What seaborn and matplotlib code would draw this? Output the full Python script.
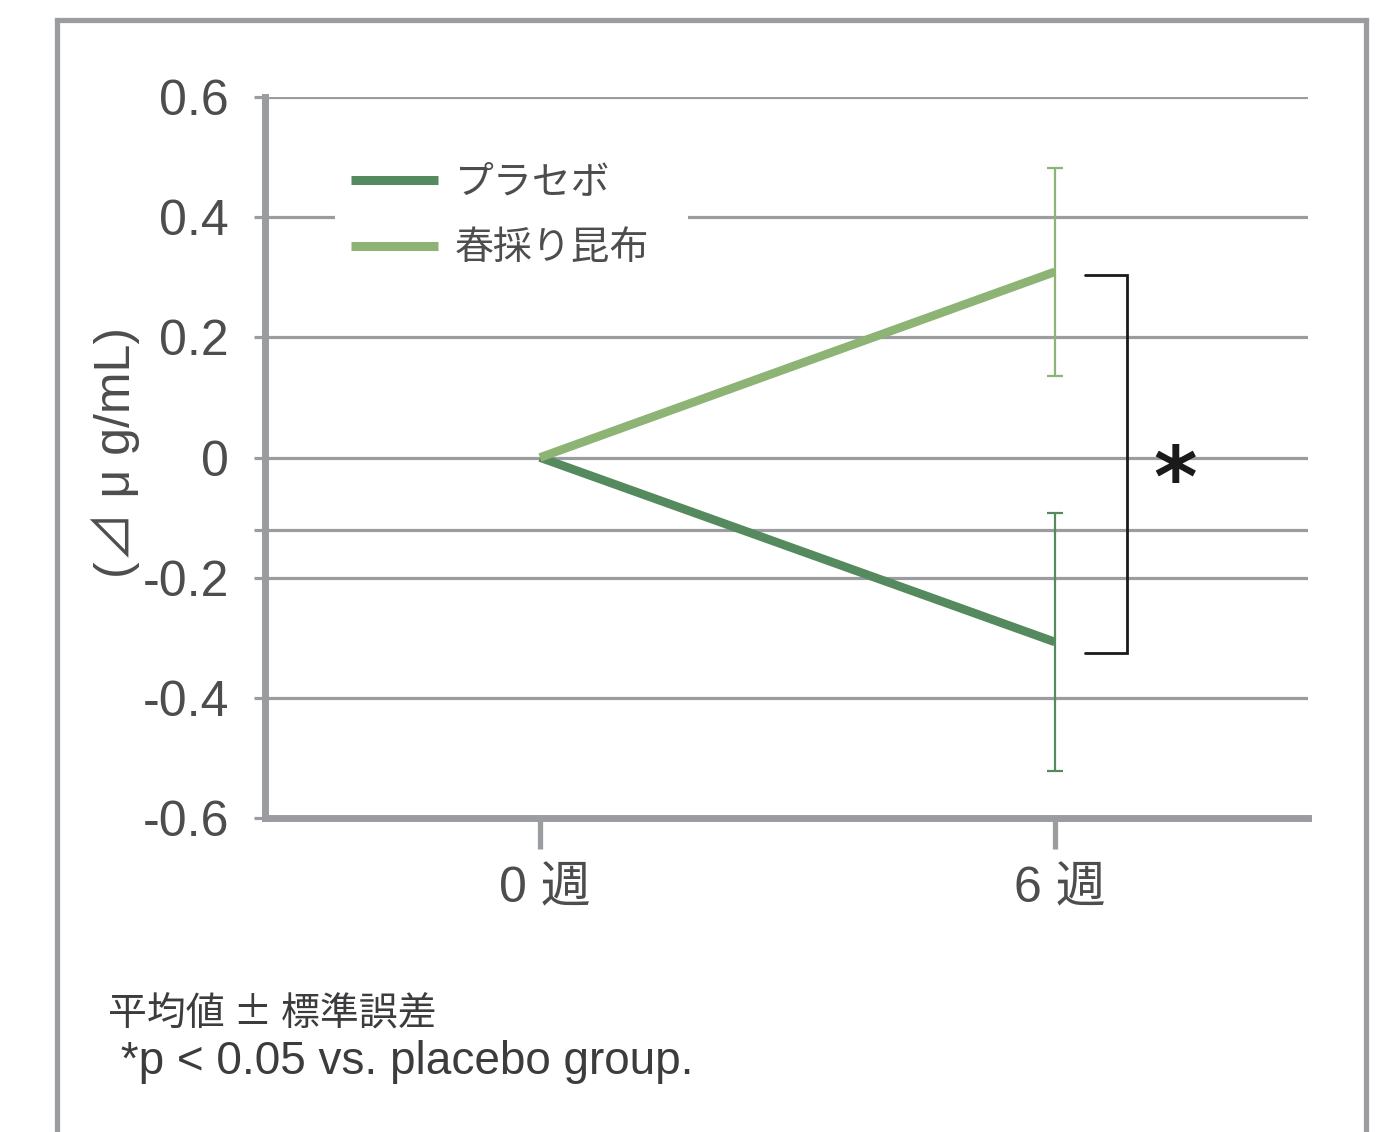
import numpy as np
import pandas as pd
import matplotlib
matplotlib.use("Agg")
import matplotlib.pyplot as plt
import matplotlib.transforms as mtransforms
from matplotlib.patches import Rectangle
import seaborn as sns

# ---- data ----
groups = ["プラセボ", "春採り昆布"]
weeks = [0, 6]
week_labels = ["0 週", "6 週"]
placebo_mean = [0.0, -0.307]
kombu_mean = [0.0, 0.309]
placebo_se = [0.0, 0.215]
kombu_se = [0.0, 0.173]
ytick_values = [0.6, 0.4, 0.2, 0.0, -0.12, -0.2, -0.4, -0.6]
ytick_labels = ["0.6", "0.4", "0.2", "0", "", "-0.2", "-0.4", "-0.6"]
ylabel_text = "(⊿ μ g/mL)"
note_lines = ["平均値 ± 標準誤差", " *p < 0.05 vs. placebo group."]

# ---- style ----
sns.set_theme(style="white")
plt.rcParams["font.family"] = ["Liberation Sans", "Noto Sans CJK JP", "DejaVu Sans"]

c_placebo = "#548a5d"
c_kombu = "#8db474"
c_grid = "#9b9ca0"
c_text = "#4d4d4f"

W, H = 1387, 1132

df = pd.DataFrame({
    "week": weeks * 2,
    "value": placebo_mean + kombu_mean,
    "group": [groups[0]] * 2 + [groups[1]] * 2,
})

fig = plt.figure(figsize=(W / 100, H / 100), dpi=100)
ax = fig.add_axes([265 / W, 1 - 818 / H, (1308 - 265) / W, (818 - 97) / H])

# outer frame (open below the figure edge)
fig.add_artist(Rectangle((57 / W, -0.05), (1366 - 57) / W, 1.05 - 20 / H,
                         transform=fig.transFigure, fill=False, edgecolor=c_grid,
                         linewidth=3.8, clip_on=False, zorder=0))

sns.lineplot(data=df, x="week", y="value", hue="group", hue_order=groups,
             palette=[c_placebo, c_kombu], linewidth=6.2, ax=ax, zorder=4,
             solid_capstyle="butt")

# error bars at week 6
ax.errorbar([weeks[1]], [placebo_mean[1]], yerr=[placebo_se[1]], fmt="none",
            ecolor=c_placebo, elinewidth=1.6, capsize=5.8, capthick=1.6, zorder=5)
ax.errorbar([weeks[1]], [kombu_mean[1]], yerr=[kombu_se[1]], fmt="none",
            ecolor=c_kombu, elinewidth=1.6, capsize=5.8, capthick=1.6, zorder=5)

# significance bracket and asterisk
bx0, bx1 = 6.35, 6.84
ax.plot([bx0, bx1, bx1, bx0], [0.304, 0.304, -0.325, -0.325], color="#1a1a1a",
        linewidth=2.0, solid_joinstyle="miter", zorder=5, clip_on=False)
ax.text(7.40, -0.042, "*", fontsize=60, fontweight="bold", color="#1a1a1a",
        ha="center", va="center", family=["DejaVu Sans"], zorder=5)

# axes, ticks, grid
ax.set_xlim(-3.204, 8.95)
ax.set_ylim(-0.6, 0.6)
ax.set_xticks(weeks)
ax.set_xticklabels(week_labels)
ax.set_yticks(ytick_values)
ax.set_yticklabels(ytick_labels)
ax.set_xlabel("")
ax.set_ylabel("")
ax.grid(axis="y", color=c_grid, linewidth=2.3, zorder=1)
ax.set_axisbelow(True)
for side in ["top", "right"]:
    ax.spines[side].set_visible(False)
for side in ["left", "bottom"]:
    ax.spines[side].set_color(c_grid)
    ax.spines[side].set_linewidth(5)
ax.tick_params(axis="y", length=8, width=2.3, color=c_grid, pad=18,
               labelsize=36, labelcolor=c_text, left=True)
ax.tick_params(axis="x", length=22, width=3.8, color=c_grid, pad=13,
               labelsize=36, labelcolor=c_text, bottom=True)
# nudge week labels slightly right of their ticks
shift = mtransforms.ScaledTranslation(5 / 100, 0, fig.dpi_scale_trans)
for lab in ax.get_xticklabels():
    lab.set_transform(lab.get_transform() + shift)

# legend on a white panel that interrupts the grid
ax.add_patch(Rectangle((335 / W, 1 - 285 / H), (688 - 335) / W, (285 - 148) / H,
                       transform=fig.transFigure, facecolor="white",
                       edgecolor="none", zorder=2))
handles, labels = ax.get_legend_handles_labels()
for h in handles:
    h.set_linewidth(6.5)
leg = ax.legend(handles, labels, loc="upper left",
                bbox_to_anchor=(335 / W, 1 - 150 / H),
                bbox_transform=fig.transFigure, frameon=False, fontsize=28,
                handlelength=2.26, handletextpad=0.42, labelspacing=0.76,
                borderpad=0.4, borderaxespad=0)
leg.set_zorder(3)
for t in leg.get_texts():
    t.set_color(c_text)

# y label and notes
fig.text(115 / W, 1 - 452 / H, ylabel_text, rotation=90, ha="center",
         va="center", fontsize=36, color=c_text)
fig.text(108 / W, 1 - 1015 / H, note_lines[0], ha="left", va="center",
         fontsize=28, color="#3c3c3e", family=["Noto Sans CJK JP"])
fig.text(108 / W, 1 - 1062 / H, note_lines[1], ha="left", va="center",
         fontsize=33, color="#3c3c3e")

fig.savefig("out.png", dpi=100)
